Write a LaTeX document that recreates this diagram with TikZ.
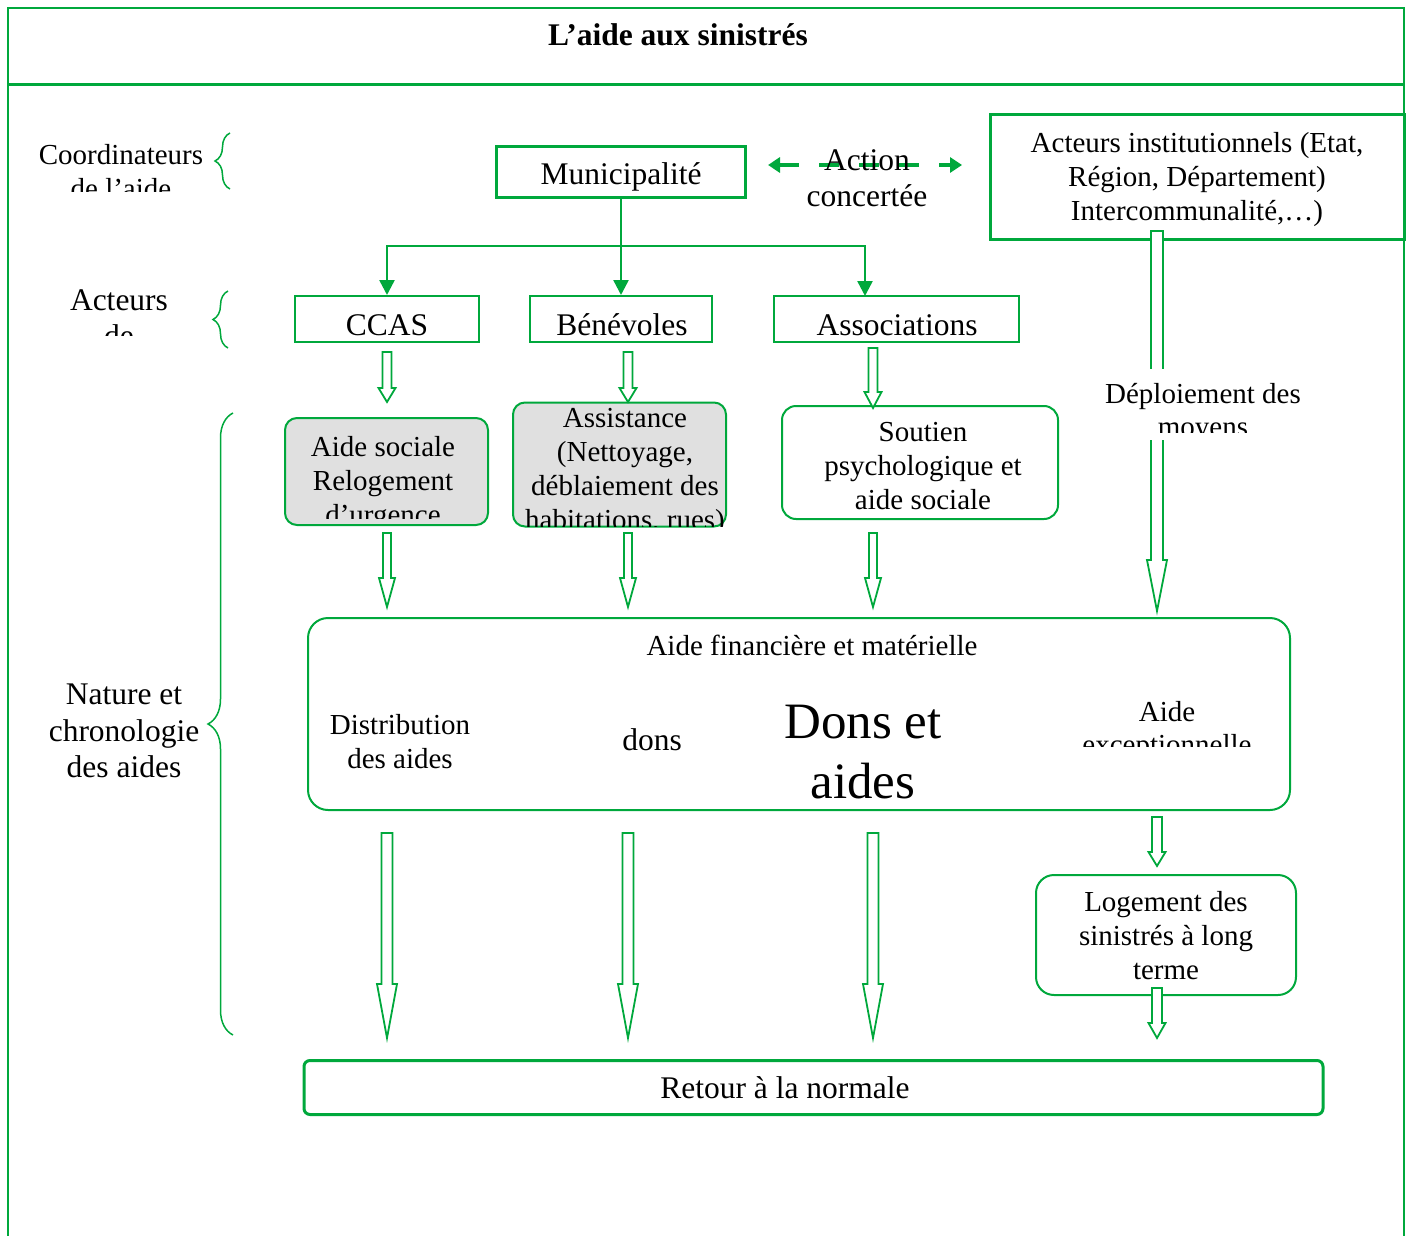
\documentclass[tikz,border=0pt]{standalone}
\usepackage{fontspec}
\setmainfont{Liberation Serif}
\usetikzlibrary{arrows.meta,decorations.pathreplacing}
\definecolor{gr}{RGB}{0,168,60}
\definecolor{boxgray}{RGB}{224,224,224}
\tikzset{
 frame/.style={draw=gr, line width=1pt},
 sq/.style={draw=gr, line width=1pt, inner sep=0pt},
 sqthick/.style={draw=gr, line width=1.5pt, inner sep=0pt},
 rb/.style={draw=gr, line width=1pt, inner sep=0pt, rounded corners=#1},
 tsm/.style={font=\fontsize{14.5}{17}\selectfont, align=center, inner sep=0pt},
 tbg/.style={font=\fontsize{15.75}{18}\selectfont, align=center, inner sep=0pt},
 harr/.style={draw=gr, line width=0.9pt, fill=white, line join=miter},
 treeline/.style={draw=gr, line width=1.25pt},
 treearrow/.style={draw=gr, line width=1.25pt, -{Triangle[width=7.5pt,length=7.5pt]}},
 brc/.style={draw=gr, line width=0.75pt, decorate, decoration={brace, amplitude=#1}},
}
\newcommand{\hollowarr}[6]{%
 \draw[harr] (#1-#4,#2) -- (#1+#4,#2) -- (#1+#4,#3-#6) -- (#1+#5,#3-#6) -- (#1,#3) -- (#1-#5,#3-#6) -- (#1-#4,#3-#6) -- cycle;}
\begin{document}
\begin{tikzpicture}[x=0.5pt,y=-0.5pt]
\useasboundingbox (0,0) rectangle (1408,1236);
% frame
\draw[frame] (7.5,1236) -- (7.5,8) -- (1404,8) -- (1404,1236);
\draw[draw=gr, line width=1.5pt] (7.5,85) -- (1404,85);
\node[font=\bfseries\fontsize{15.75}{18}\selectfont, inner sep=0pt] (title) at (678,35) {L’aide aux sinistrés};

% left labels
\begin{scope}
\clip (20,120) rectangle (210,191);
\node[tsm] (coord) at (121,172) {Coordinateurs\\de l’aide};
\end{scope}
\draw[brc=7.5pt] (230,189) -- (230,133);
\begin{scope}
\clip (20,270) rectangle (210,335);
\node[tbg] (acteurs) at (119,318) {Acteurs\\de};
\end{scope}
\draw[brc=7.5pt] (228,348) -- (228,291);
\node[font=\fontsize{15.75}{18.25}\selectfont, align=center, inner sep=0pt] (nature) at (124,731) {Nature et\\chronologie\\des aides};
\draw[brc=12.5pt] (233,1035) -- (233,413);

% top boxes
\node[sqthick, minimum width=124.5pt, minimum height=25pt] (muni) at (621,172) {};
\node[tbg] (munit) at (621,177) {Municipalité};
\node[sqthick, minimum width=207pt, minimum height=62pt] (inst) at (1197,177) {};
\node[tsm] (instt) at (1197,180) {Acteurs institutionnels (Etat,\\Région, Département)\\Intercommunalité,…)};
\coordinate (acL) at (768,165);
\coordinate (acR) at (962,165);
\draw[draw=gr, line width=2.2pt, dash pattern=on 10pt off 10pt, {Triangle[width=7.5pt,length=6pt]}-{Triangle[width=7.5pt,length=6pt]}] (acL) -- (acR);
\node[tbg] (action) at (867,178) {Action\\concertée};

% actors
\node[sq, minimum width=92pt, minimum height=23pt] (ccas) at (387,319) {};
\node[tbg] (ccast) at (387,325) {CCAS};
\node[sq, minimum width=91pt, minimum height=23pt] (ben) at (621,319) {};
\node[tbg] (bent) at (622,325) {Bénévoles};
\node[sq, minimum width=122.5pt, minimum height=23pt] (asso) at (896.5,319) {};
\node[tbg] (assot) at (897,325) {Associations};
\coordinate (j) at (621,246);
\coordinate (asin) at (865,296);
\draw[treeline] (muni.south) -- (j);
\draw[treearrow] (j) -- (ben.north);
\draw[treearrow] (j) -| (ccas.north);
\draw[treearrow] (j) -| (asin);

% second row boxes
\node[rb=6pt, fill=boxgray, minimum width=101.5pt, minimum height=53.5pt] (aides) at (386.5,471.5) {};
\begin{scope}
\clip (280,400) rectangle (495,518);
\node[tsm] (aidest) at (383,484) {Aide sociale\\Relogement\\d’urgence};
\end{scope}
\node[rb=6pt, fill=boxgray, minimum width=106.5pt, minimum height=62pt] (assist) at (619.5,464.5) {};
\begin{scope}
\clip (500,395) rectangle (740,526);
\node[tsm] (assistt) at (625,472) {Assistance\\(Nettoyage,\\déblaiement des\\habitations, rues)};
\end{scope}
\node[rb=7pt, fill=white, minimum width=138pt, minimum height=56.5pt] (soutien) at (920,462.5) {};
\node[tsm] (soutient) at (923,466) {Soutien\\psychologique et\\aide sociale};

% big box
\node[rb=10pt, minimum width=491pt, minimum height=96pt] (big) at (799,714) {};
\node[tsm] (fin) at (812,645) {Aide financière et matérielle};
\node[tsm] (distr) at (400,742) {Distribution\\des aides};
\node[tbg] (dons) at (652,740) {dons};
\node[font=\fontsize{25.5}{30}\selectfont, align=center, inner sep=0pt] (donsaides) at (863,752) {Dons et\\aides};
\begin{scope}
\clip (1060,680) rectangle (1280,746);
\node[font=\fontsize{14.5}{16.5}\selectfont, align=center, inner sep=0pt] (excep) at (1167,731) {Aide\\exceptionnelle};
\end{scope}

% right column
\node[rb=9pt, minimum width=130pt, minimum height=60pt] (loge) at (1166,935) {};
\node[tsm] (loget) at (1166,936) {Logement des\\sinistrés à long\\terme};
\node[draw=gr, line width=1.5pt, inner sep=0pt, rounded corners=3pt, minimum width=509.5pt, minimum height=27pt] (retour) at (813.5,1087.5) {};
\node[tbg] (retourt) at (785,1088) {Retour à la normale};

% hollow arrows
\hollowarr{387}{352}{402}{4.5}{8.5}{14}
\hollowarr{628}{352}{402}{4.5}{8.5}{14}
\hollowarr{873}{348}{408}{4.5}{8.5}{16}
\hollowarr{387}{533}{607}{4}{8}{29}
\hollowarr{628}{533}{607}{4}{8}{29}
\hollowarr{873}{533}{607}{4}{8}{29}
\hollowarr{387}{833}{1038}{5.5}{10}{54}
\hollowarr{628}{833}{1038}{5.5}{10}{54}
\hollowarr{873}{833}{1038}{5.5}{10}{54}
\hollowarr{1157}{817}{866}{5}{8.5}{14}
\hollowarr{1157}{988}{1038}{5}{8.5}{15}
\hollowarr{1157}{231}{611}{6}{10}{51}
\fill[white] (1140,369) rectangle (1176,440);
\begin{scope}
\clip (1080,370) rectangle (1330,432);
\node[font=\fontsize{14.5}{16.5}\selectfont, align=center, inner sep=0pt] (deploi) at (1203,413) {Déploiement des\\moyens};
\end{scope}
\end{tikzpicture}
\end{document}
